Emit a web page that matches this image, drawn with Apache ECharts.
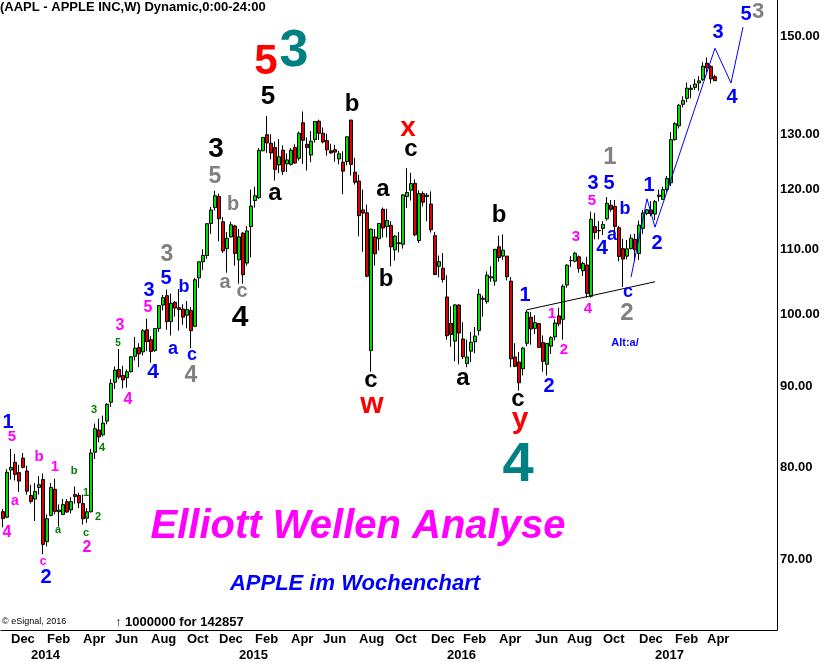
<!DOCTYPE html>
<html><head><meta charset="utf-8">
<script src="https://cdn.jsdelivr.net/npm/echarts@6/dist/echarts.min.js"></script>
<style>html,body{margin:0;padding:0;background:#fff}#c{width:824px;height:664px}</style>
</head><body><div id="c"></div>
<script>
// ---- data ----
const firstWeek = '2013-11-18';
const weekSlots = 194; // includes empty future weeks on the right
const opens = [75.0,74.4,79.7,80.6,79.4,81.1,79.6,76.8,76.4,77.7,
78.6,71.8,74.6,77.5,75.0,74.7,76.1,75.2,76.9,76.8,
75.9,74.3,75.0,81.8,84.5,83.9,85.6,88.0,90.6,92.3,
91.5,91.2,92.0,94.1,95.3,94.7,97.8,96.4,94.9,98.0,
101.4,102.8,99.0,101.8,101.0,100.8,99.9,100.6,98.3,105.5,
108.0,109.0,114.2,116.9,118.8,114.5,110.1,112.0,113.8,108.3,
112.6,107.8,113.7,118.1,118.6,127.0,130.0,128.4,127.6,124.4,
127.1,124.6,124.5,127.6,125.6,132.3,128.2,126.2,129.1,132.6,
130.3,128.9,127.0,127.2,125.5,124.9,125.0,132.8,123.1,121.5,
116.5,116.0,94.9,112.0,111.7,116.6,113.7,113.9,109.9,110.9,
110.8,118.8,119.9,121.1,111.4,119.3,118.8,117.5,112.2,107.3,
107.0,102.6,98.7,96.2,101.4,96.5,93.1,94.8,96.1,97.7,
102.4,101.9,105.5,105.0,110.4,108.9,108.9,105.0,94.0,93.3,
92.4,95.9,99.6,98.0,98.7,96.0,93.0,95.5,96.8,99.8,
99.3,104.4,108.2,108.1,108.8,106.6,107.5,102.7,113.7,113.0,
113.4,115.0,117.3,117.1,113.5,110.1,108.9,110.1,111.6,109.3,
113.4,115.9,116.5,115.8,118.8,118.3,120.0,121.2,129.1,131.7,
135.9,137.1,138.9,139.3,140.2,140.9,144.3,143.6,141.5];
const highs = [75.3,79.8,82.2,81.6,80.3,81.7,80.2,78.0,78.2,79.0,
79.3,74.7,78.2,78.7,75.8,76.4,76.4,76.6,77.8,77.1,
76.9,75.4,82.2,85.3,85.9,86.3,87.9,91.0,92.7,95.1,
92.8,92.3,94.1,96.8,95.9,97.9,99.4,96.9,98.0,101.4,
102.9,103.7,103.1,102.0,103.8,101.5,102.0,101.1,105.5,108.0,
110.0,114.2,117.0,119.8,119.3,115.3,112.8,114.5,114.0,113.3,
112.8,113.8,120.0,120.5,127.5,129.5,133.6,130.1,128.7,129.2,
128.0,126.5,127.5,128.2,130.6,134.5,129.5,130.7,132.6,132.9,
131.4,130.2,128.3,128.1,127.0,126.9,129.6,132.9,125.7,122.6,
120.0,117.4,113.3,113.3,114.2,116.9,116.7,114.6,112.3,112.8,
119.2,123.8,123.0,121.8,119.9,119.7,119.4,119.7,112.8,109.0,
109.4,105.9,101.2,101.5,101.5,98.9,96.4,97.5,98.2,103.8,
102.8,106.5,107.3,110.0,112.2,112.4,108.9,105.6,95.9,94.7,
95.4,100.7,100.4,99.9,98.8,97.0,95.9,96.9,99.3,101.0,
104.5,107.6,108.9,109.6,109.0,108.0,108.8,116.2,116.0,114.6,
114.6,118.7,118.2,118.2,113.8,111.7,111.5,112.4,112.5,114.7,
116.5,116.6,118.0,118.2,120.0,120.5,122.4,130.5,132.4,136.0,
137.5,140.3,139.8,141.0,141.6,144.5,145.5,143.9,141.9];
const lows = [73.3,74.3,78.6,78.5,77.2,79.9,76.9,75.9,74.0,76.9,
70.5,71.3,74.5,74.7,73.4,74.7,74.9,74.8,75.9,75.4,
73.6,73.8,74.9,81.0,83.0,83.7,85.2,87.4,89.7,91.0,
89.8,89.9,91.9,93.5,92.6,94.2,94.8,93.2,94.7,97.5,
100.6,97.8,97.0,99.7,97.7,98.5,98.0,95.2,98.2,104.0,
106.7,108.5,112.5,116.4,111.3,109.4,106.3,111.9,107.4,104.6,
104.6,107.4,108.7,116.9,118.4,126.9,126.6,125.4,121.6,122.9,
122.6,123.1,124.3,124.6,125.2,124.6,123.4,124.9,128.5,129.0,
128.4,126.1,126.4,125.0,124.5,119.2,124.3,122.5,120.9,112.1,
109.6,105.6,92.0,107.4,109.8,111.9,111.9,107.3,108.2,109.5,
110.1,116.8,118.1,112.1,111.0,117.1,114.6,112.7,106.2,105.6,
104.8,96.4,95.4,93.4,93.0,93.7,92.6,93.3,94.5,97.0,
99.7,101.6,104.9,104.3,108.0,108.3,105.1,92.6,92.6,89.5,
91.5,95.5,95.7,97.2,95.3,92.0,91.5,94.4,96.3,98.3,
96.4,104.0,107.2,107.9,106.3,105.8,102.5,102.5,111.6,111.6,
112.3,114.7,116.2,111.8,108.1,104.1,108.4,110.0,108.1,108.3,
112.5,115.6,115.4,114.8,118.0,118.2,119.5,120.6,128.9,131.2,
135.3,136.3,137.1,138.8,138.6,140.6,142.4,140.1,140.6];
const closes = [74.26,79.44,80.00,79.20,78.43,80.01,77.28,76.13,77.24,78.01,
71.51,74.24,77.71,75.04,75.18,75.78,74.96,76.12,76.69,75.97,
74.23,74.99,81.71,84.65,83.65,85.36,87.73,90.43,92.22,91.28,
90.91,91.98,94.03,95.22,94.43,97.67,96.13,94.74,97.98,101.32,
102.50,98.97,101.66,100.96,100.75,99.62,100.73,97.67,105.22,108.00,
109.01,114.18,116.47,118.93,115.00,109.73,111.78,113.99,109.33,112.01,
105.99,112.98,117.16,118.93,127.08,129.50,128.46,126.60,123.59,125.90,
123.25,125.32,127.10,124.75,130.28,128.95,127.62,128.77,132.54,130.28,
128.65,127.17,126.60,126.75,126.44,123.28,129.62,124.50,121.30,115.52,
115.96,105.76,113.29,109.27,114.21,113.45,114.71,110.38,112.12,111.04,
119.08,119.50,121.06,112.34,119.30,117.81,119.03,113.18,106.03,108.03,
105.26,96.96,97.13,101.42,97.34,94.02,93.99,96.04,96.91,103.01,
102.26,105.92,105.67,109.99,108.66,109.85,105.68,93.74,92.72,90.52,
95.22,100.35,97.92,98.83,95.33,93.40,95.89,96.68,98.78,98.66,
104.21,107.48,108.18,109.36,106.94,107.73,103.13,114.92,112.71,113.05,
114.06,117.63,116.60,113.72,108.84,108.43,110.06,111.79,109.90,113.95,
115.97,116.52,115.82,117.91,119.04,120.00,121.95,129.08,132.12,135.72,
136.66,139.14,139.14,139.99,140.64,143.66,143.34,141.05,140.68];
const yTickValues = [70, 80, 90, 100, 110, 120, 130, 150];
const lastPrice = 140.68;
// Elliott projection path (week index, price)
const projWeeks = [157, 161, 163, 178, 182, 185];
const projPrices = [105.6, 118.4, 113.6, 147.5, 140.2, 152.1];
// support trendline (week index, price)
const trendWeeks = [131, 163];
const trendPrices = [100.7, 104.9];

// ---- annotation layout (text, x, y, colour, size) ----
const B='#0000ff', M='#ff00ff', G='#808080', K='#000000', R='#ff0000', T='#008080', GR='#008000';
const waveLabels = [
['1',8,422,B,20],['5',12,437,M,15],['b',39,457,M,15],['1',55,467,M,15],['b',74,471,GR,11],
['a',15,502,M,14],['1',86,493,GR,11],['4',7,533,M,16],['a',58,531,GR,11],['c',86,534,GR,11],
['2',98,517,GR,11],['2',87,548,M,16],['c',43,563,M,12],['2',46,577,B,20],['3',94,410,GR,11],
['4',102,448,GR,11],['4',128,400,M,16],['3',120,326,M,16],['5',118,343,GR,10],['5',148,308,M,16],
['3',149,290,B,20],['5',166,278,B,20],['3',167,255,G,23],['b',184,287,B,18],['a',173,351,B,18],
['c',192,357,B,18],['4',153,372,B,21],['4',191,376,G,23],['5',215,177,G,23],['3',216,149,K,28],
['b',233,204,G,20],['a',225,284,G,20],['c',242,293,G,20],['4',240,318,K,30],['5',266,62,R,42],
['3',294,52,T,52],['5',268,97,K,26],['a',275,196,K,24],['b',352,104,K,24],['x',408,131,R,28],
['c',411,152,K,24],['a',383,192,K,24],['b',386,279,K,24],['c',371,383,K,24],['w',372,407,R,30],
['b',499,215,K,24],['a',463,381,K,24],['c',518,402,K,24],['y',520,425,R,30],['4',518,466,T,56],
['1',525,295,B,20],['1',552,314,M,15],['2',549,386,B,20],['2',564,350,M,15],['3',576,237,M,15],
['5',592,201,M,15],['4',588,309,M,15],['3',593,183,B,20],['5',609,183,B,20],['1',610,157,G,24],
['4',602,248,B,21],['a',612,237,B,18],['b',625,209,B,18],['c',628,294,B,18],['2',627,313,G,24],
['1',649,185,B,20],['2',657,243,B,20],['3',718,32,B,20],['4',732,97,B,20],['5',746,14,B,20],
['3',758,12,G,22],['Alt:a/',625,343,B,11]
];

// ---- build ----
const FONT = '"Liberation Sans", Arial, sans-serif';
const MON = ['Jan','Feb','Mar','Apr','May','Jun','Jul','Aug','Sep','Oct','Nov','Dec'];
const weeks = [];
{
  let t = Date.parse(firstWeek + 'T00:00:00Z');
  for (let i = 0; i < weekSlots; i++) { weeks.push(new Date(t).toISOString().slice(0, 10)); t += 7 * 864e5; }
}
const lastIdx = closes.length - 1;
function isFirstWeek(s) { return +s.slice(8, 10) <= 7; }
function monthText(idx, s) {
  const m = +s.slice(5, 7);
  if (idx > lastIdx || !isFirstWeek(s) || m % 2 !== 0) return null;
  return MON[m - 1];
}
function yearText(idx, s) {
  const m = +s.slice(5, 7);
  if (idx > lastIdx || !isFirstWeek(s) || m !== 1) return null;
  return s.slice(0, 4);
}
const candles = closes.map((c, i) => [opens[i], c, lows[i], highs[i]]);
const proj = projWeeks.map((w, i) => [w, projPrices[i]]);
const trend = trendWeeks.map((w, i) => [w, trendPrices[i]]);

const graphics = [];
const lowerX = 'acewxz';
waveLabels.forEach(([t, x, y, col, sz]) => {
  let dy = 0;
  if (t.length === 1 && lowerX.includes(t)) dy = -0.09 * sz;
  if (t === 'y') dy = -0.19 * sz;
  graphics.push({ type: 'text', x: x, y: y + dy, z: 100,
    style: { text: t, fill: col, font: 'bold ' + sz + 'px ' + FONT, align: 'center', verticalAlign: 'middle' } });
});
graphics.push({ type: 'text', x: 0, y: 7, style: { text: '(AAPL - APPLE INC,W) Dynamic,0:00-24:00', fill: '#000', font: 'bold 13px ' + FONT, align: 'left', verticalAlign: 'middle' } });
graphics.push({ type: 'text', x: 358, y: 527, z: 100, style: { text: 'Elliott Wellen Analyse', fill: '#ff00ff', font: 'italic bold 40px ' + FONT, align: 'center', verticalAlign: 'middle' } });
graphics.push({ type: 'text', x: 355, y: 584, z: 100, style: { text: 'APPLE im Wochenchart', fill: '#0000ff', font: 'italic bold 22px ' + FONT, align: 'center', verticalAlign: 'middle' } });
graphics.push({ type: 'text', x: 2, y: 622, style: { text: '\u00a9 eSignal, 2016', fill: '#000', font: '9px ' + FONT, align: 'left', verticalAlign: 'middle' } });
graphics.push({ type: 'text', x: 115, y: 622, style: { text: '\u2191 1000000 for 142857', fill: '#000', font: 'bold 13px ' + FONT, align: 'left', verticalAlign: 'middle' } });

const labelBase = { align: 'left', color: '#000', fontWeight: 'bold', fontSize: 13, fontFamily: FONT, hideOverlap: false, showMinLabel: true, showMaxLabel: true };
const chart = echarts.init(document.getElementById('c'), null, { renderer: 'canvas' });
chart.setOption({
  animation: false,
  backgroundColor: '#ffffff',
  grid: { left: 1, right: 47, top: 0, bottom: 34 },
  xAxis: [{
    type: 'category', data: weeks, boundaryGap: true, position: 'bottom',
    axisLine: { show: true, lineStyle: { color: '#000', width: 1 } },
    axisTick: { show: false },
    splitLine: { show: false },
    axisLabel: Object.assign({}, labelBase, {
      interval: (idx, val) => monthText(idx, val) !== null,
      formatter: (val, idx) => monthText(idx, val) || '',
      margin: 3
    })
  }, {
    type: 'category', data: weeks, boundaryGap: true, position: 'bottom', offset: 16,
    axisLine: { show: false },
    axisTick: { show: false },
    splitLine: { show: false },
    axisLabel: Object.assign({}, labelBase, {
      interval: (idx, val) => yearText(idx, val) !== null,
      formatter: (val, idx) => yearText(idx, val) || '',
      margin: 3
    })
  }],
  yAxis: {
    type: 'log', logBase: 10, min: 63.11, max: 158.25, position: 'right',
    axisLine: { show: true, lineStyle: { color: '#000', width: 1 } },
    axisTick: { show: false },
    splitLine: { show: false },
    axisLabel: { customValues: yTickValues, formatter: (v) => Number(v).toFixed(2), color: '#000', fontWeight: 'bold', fontSize: 13, fontFamily: FONT, margin: 3 }
  },
  series: [
    {
      type: 'candlestick', data: candles, barWidth: 3,
      itemStyle: { color: '#00dd00', color0: '#dd0000', borderColor: '#000', borderColor0: '#000', borderWidth: 1 },
      markLine: {
        silent: true, symbol: 'none', data: [{ yAxis: lastPrice }],
        lineStyle: { opacity: 0 },
        label: { position: 'end', distance: 2, formatter: () => lastPrice.toFixed(2), color: '#fff', backgroundColor: '#ff0000', fontWeight: 'bold', fontSize: 13, fontFamily: FONT, padding: [2, 1, 1, 1] }
      }
    },
    { type: 'line', data: trend, symbol: 'none', lineStyle: { color: '#000', width: 1 }, z: 3 },
    { type: 'line', data: proj, symbol: 'none', lineStyle: { color: '#0000ff', width: 1 }, z: 3 }
  ],
  graphic: graphics
});
</script>
</body></html>
